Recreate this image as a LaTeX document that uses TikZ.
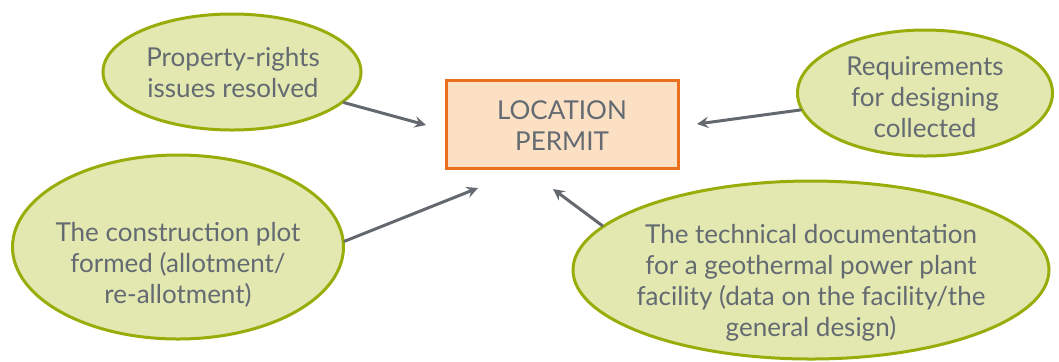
\documentclass[tikz,border=0pt]{standalone}
\usepackage{fontspec}
\setmainfont{Lato}
\usepackage{tikz}
\usetikzlibrary{arrows}
\usetikzlibrary{shapes,positioning}
\tikzset{>=stealth}
\definecolor{bubblefill}{RGB}{226,232,176}
\definecolor{bubbleline}{RGB}{153,173,10}
\definecolor{permitfill}{RGB}{252,224,196}
\definecolor{permitline}{RGB}{234,112,30}
\definecolor{textgray}{RGB}{99,106,113}
\definecolor{arrowgray}{RGB}{100,105,112}

\begin{document}
\begin{tikzpicture}[x=0.5pt,y=-0.5pt,line cap=round,
    bubble/.style={ellipse, draw=bubbleline, fill=bubblefill, line width=1.5pt, inner sep=-40pt},
    words/.style={align=center, text=textgray, font=\fontsize{13pt}{15.5pt}\selectfont},
    permit/.style={rectangle, draw=permitline, fill=permitfill, line width=1.5pt,
      minimum width=116pt, minimum height=44pt},
    link/.style={->, draw=arrowgray, line width=1.5pt}]

    \useasboundingbox (0,0) rectangle (1059,361);

    % the permit
    \node [permit] (permit) at (562,124) {};
    \node [words] (permitText) at (562,126) {LOCATION\\PERMIT};

    % the four conditions
    \node [bubble, minimum width=129pt, minimum height=58pt] (prop) at (232,72) {};
    \node [words] (propText) at (233,73) {Property-rights\\issues resolved};

    \node [bubble, minimum width=127.5pt, minimum height=63pt] (req) at (925,93) {};
    \node [words] (reqText) at (925,97) {Requirements\\for designing\\collected};

    \node [bubble, minimum width=165.5pt, minimum height=92pt] (plot) at (178,247) {};
    \node [words] (plotText) at (178,265) {The construction plot\\formed (allotment/\\re-allotment)};

    \node [bubble, minimum width=238pt, minimum height=89pt] (tech) at (811,270) {};
    \node [words] (techText) at (811,283) {The technical documentation\\for a geothermal power plant\\facility (data on the facility/the\\general design)};

    % arrow ends
    \coordinate (tipProp) at (426,125);
    \coordinate (tipReq) at (697,124);
    \coordinate (tipPlot) at (478,188);
    \coordinate (tipTech) at (553,189);

    \draw [link] (prop) -- (tipProp);
    \draw [link] (req) -- (tipReq);
    \draw [link] (plot.2) -- (tipPlot);
    \draw [link] (tech.168) -- (tipTech);

\end{tikzpicture}
\end{document}
